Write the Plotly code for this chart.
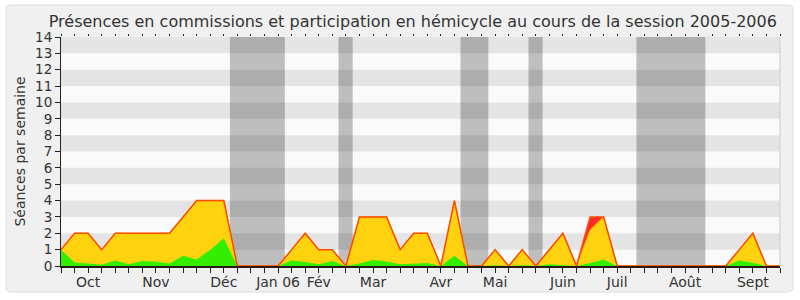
import plotly.graph_objects as go

# week index (0..53) for the 2005-2006 session
semaines = list(range(54))

# top of red area (total incl. commission)
total = [1, 2, 2, 1, 2, 2, 2, 2, 2, 3, 4, 4, 4, 0, 0, 0, 0, 1, 2, 1, 1, 0, 3, 3, 3, 1,
         2, 2, 0, 4, 0, 0, 1, 0, 1, 0, 1, 2, 0, 3, 3, 0, 0, 0, 0, 0, 0, 0, 0, 0, 1, 2, 0, 0]
# top of yellow area
hemicycle = [1, 2, 2, 1, 2, 2, 2, 2, 2, 3, 4, 4, 4, 0, 0, 0, 0, 1, 2, 1, 1, 0, 3, 3, 3, 1,
             2, 2, 0, 4, 0, 0, 1, 0, 1, 0, 1, 2, 0, 2.2, 3, 0, 0, 0, 0, 0, 0, 0, 0, 0, 1, 2, 0, 0]
# green area
interventions = [1.0, 0.22, 0.16, 0.08, 0.33, 0.1, 0.3, 0.26, 0.15, 0.63, 0.4, 1.0, 1.7, 0, 0, 0, 0,
                 0.33, 0.25, 0.1, 0.3, 0, 0.15, 0.37, 0.27, 0.1, 0.12, 0.18, 0, 0.63, 0, 0, 0.05, 0,
                 0.05, 0, 0.1, 0.05, 0, 0.18, 0.39, 0, 0, 0, 0, 0, 0, 0, 0, 0, 0.33, 0.2, 0, 0]

mois_pos = [2, 7, 12, 16, 19, 23, 28, 32, 37, 41, 46, 51]
mois_lbl = ["Oct", "Nov", "Déc", "Jan 06", "Fév", "Mar", "Avr", "Mai", "Juin", "Juil", "Août", "Sept"]

vacances = [(12.45, 16.5), (20.46, 21.5), (29.45, 31.5), (34.46, 35.5), (42.42, 47.5)]

ticktext = [""] * len(semaines)
for p, l in zip(mois_pos, mois_lbl):
    ticktext[p] = l

fig = go.Figure()
fig.add_trace(go.Scatter(x=semaines, y=total, fill="tozeroy", mode="lines",
                         line=dict(color="#ff2a2a", width=0), fillcolor="#ff2a2a", showlegend=False))
fig.add_trace(go.Scatter(x=semaines, y=hemicycle, fill="tozeroy", mode="lines",
                         line=dict(color="#ffb000", width=1), fillcolor="#ffd20f", showlegend=False))
fig.add_trace(go.Scatter(x=semaines, y=interventions, fill="tozeroy", mode="lines",
                         line=dict(color="#33ee00", width=0), fillcolor="#33ee00", showlegend=False))
fig.add_trace(go.Scatter(x=semaines, y=total, mode="lines",
                         line=dict(color="#ff4a00", width=1.5), showlegend=False))
fig.add_trace(go.Scatter(x=semaines, y=[None] * len(semaines), xaxis="x2", mode="lines",
                         showlegend=False, hoverinfo="skip"))

shapes = []
# outer rounded frame (pixel coords relative to plot origin)
x0, x1, y0, y1, r = -55, 732, -26, 261, 5
path = (f"M{x0+r},{y0} L{x1-r},{y0} Q{x1},{y0} {x1},{y0+r} L{x1},{y1-r} Q{x1},{y1} {x1-r},{y1} "
        f"L{x0+r},{y1} Q{x0},{y1} {x0},{y1-r} L{x0},{y0+r} Q{x0},{y0} {x0+r},{y0} Z")
shapes.append(dict(type="path", path=path, xref="paper", yref="paper", xsizemode="pixel",
                   ysizemode="pixel", xanchor=0, yanchor=0, fillcolor="#f0f0f0",
                   line=dict(color="#dcdcdc", width=1), layer="below"))
shapes.append(dict(type="rect", xref="paper", yref="paper", x0=0, x1=1, y0=0, y1=1,
                   fillcolor="#fafafa", line=dict(width=0), layer="below"))
for a, b in vacances:
    shapes.append(dict(type="rect", xref="x", yref="y", x0=a, x1=b, y0=0, y1=14,
                       fillcolor="#bebebe", line=dict(width=0), layer="below"))
for k in range(1, 14, 2):
    shapes.append(dict(type="rect", xref="x", yref="y", x0=0, x1=53, y0=k, y1=k + 1,
                       fillcolor="rgba(0,0,0,0.085)", line=dict(width=0), layer="below"))
shapes.append(dict(type="line", xref="paper", yref="paper", x0=1, x1=1, y0=0, y1=1,
                   line=dict(color="#cccccc", width=1), layer="above"))

fig.update_layout(
    width=800, height=300,
    margin=dict(l=61, r=20, t=37, b=34, autoexpand=False),
    paper_bgcolor="white", plot_bgcolor="rgba(0,0,0,0)",
    font=dict(family="DejaVu Sans", size=13, color="#333333"),
    title=dict(text="Présences en commissions et participation en hémicycle au cours de la session 2005-2006",
               x=0.516, xanchor="center", y=0.93, yanchor="middle",
               font=dict(family="DejaVu Sans", size=16, color="#333333")),
    xaxis=dict(range=[0, 53], tickvals=semaines, ticktext=ticktext, ticks="outside", ticklen=5,
               tickcolor="#222222", showline=True, linecolor="#2a1a10", linewidth=1.5,
               showgrid=False, zeroline=False, tickfont=dict(size=14), automargin=False,
               ticklabelstandoff=-3),
    xaxis2=dict(range=[0, 53], overlaying="x", side="top", tickvals=semaines, ticks="outside",
                ticklen=2, tickcolor="#222222", showticklabels=False, showline=False,
                showgrid=False, zeroline=False, automargin=False),
    yaxis=dict(range=[0, 14], tickvals=list(range(15)), ticks="outside", ticklen=5,
               tickcolor="#222222", showline=True, linecolor="#222222", linewidth=1,
               showgrid=False, zeroline=False, tickfont=dict(size=13.5), automargin=False,
               title=dict(text="Séances par semaine", font=dict(size=14), standoff=6)),
    shapes=shapes,
)

fig.write_html("out.html")
